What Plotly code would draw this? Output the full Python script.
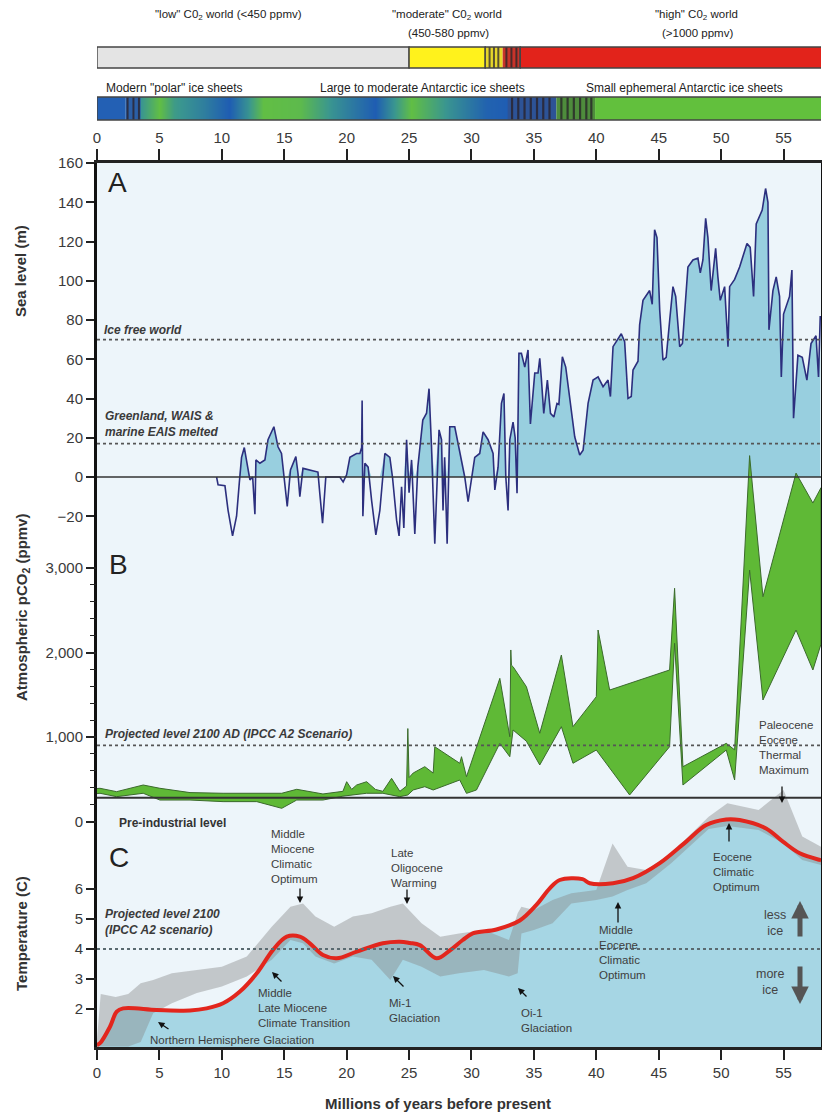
import plotly.graph_objects as go

# ---------------- Panel A: sea level (m) ----------------
sl_age = [9.58, 9.7, 10.25, 10.5, 10.86, 11.18, 11.4, 11.58, 11.8, 11.97, 12.25, 12.47, 12.65, 12.73,
          13.05, 13.45, 13.7, 14.17, 14.5, 14.78, 14.97, 15.24, 15.5, 15.93, 16.1, 16.25, 16.5, 17.05,
          17.7, 17.85, 18.07, 18.33, 19.45, 19.72, 19.99, 20.26, 20.79, 21.06, 21.2, 21.24, 21.3, 21.46,
          21.72, 22.0, 22.34, 22.66, 23.06, 23.46, 23.67, 24.0, 24.2, 24.4, 24.58, 24.8, 25.0, 25.2,
          25.46, 25.7, 26.1, 26.4, 26.6, 26.8, 27.06, 27.4, 27.6, 27.72, 27.85, 28.05, 28.26, 28.66,
          29.06, 29.46, 29.73, 30.0, 30.26, 30.66, 30.93, 31.33, 31.73, 31.87, 32.13, 32.4, 32.6, 32.75,
          32.93, 33.07, 33.33, 33.5, 33.65, 33.8, 34.0, 34.27, 34.53, 34.72, 35.07, 35.33, 35.47, 35.6,
          35.79, 36.08, 36.33, 36.6, 36.85, 37.0, 37.28, 37.55, 37.87, 38.27, 38.67, 38.94, 39.34, 39.74,
          40.14, 40.54, 40.94, 41.13, 41.34, 41.74, 42.0, 42.27, 42.54, 42.8, 42.94, 43.34, 43.47, 43.74,
          44.27, 44.48, 44.67, 44.86, 45.08, 45.34, 45.6, 45.88, 46.14, 46.36, 46.68, 46.9, 47.08, 47.34,
          47.74, 48.14, 48.33, 48.54, 48.76, 48.94, 49.2, 49.56, 49.74, 49.93, 50.28, 50.55, 50.68, 51.08,
          51.48, 51.74, 52.07, 52.33, 52.6, 52.81, 53.29, 53.56, 53.75, 53.83, 54.15, 54.41, 54.68, 54.82,
          55.0, 55.48, 55.67, 55.8, 56.15, 56.5, 56.87, 57.2, 57.6, 57.8, 57.94]
sl_m = [0, -4, -4.5, -17, -30, -20, -3, 10, 15, 8.7, -1.5, 0, -19, 8.7,
        7, 8.7, 19, 25.6, 15.4, 12, 0, -15, 3.6, 10.4, 1.9, -10, 4.4, 3.4,
        2.5, -8.5, -23.5, 0, 0, -2.5, 1, 10, 12, 12, 15, 39, -20, 7,
        5, -12, -29.5, -17, 12, 10, 0, -22, -30, -5, -26, 19, -8, 8.7,
        -29, 5, 29, 32.5, 45, 15, -34, 24, 19, -17, 10, -34, 25.6, 25.6,
        12, 0, -12.6, -2, 10, 12, 23, 19, 12, -6.6, 5, 37.5, 42.6, 0,
        -17, 19, 28, 20, -8.3, 63, 63, 56, 64.7, 27, 53, 53, 60.5, 50,
        32.4, 49.4, 32.4, 30.6, 37.5, 37, 61.3, 56, 41, 20.5, 11.2, 13.6, 37.5, 49.4,
        51, 46, 49.4, 41, 66.4, 70.7, 73, 69, 40, 41, 54.5, 59, 77.5, 90,
        95, 88, 126, 122, 85, 59.6, 61, 80, 97, 92, 66.4, 68, 85, 107,
        110.6, 111.5, 104, 110.6, 131.8, 122, 95, 116.5, 102, 90, 97, 66.4, 97, 100.7,
        107, 112, 119, 117, 92, 129, 136, 147, 140, 75, 95, 102, 92, 51,
        83, 92, 105.5, 30, 62, 61, 49.4, 68, 72, 51, 82]

# ---------------- Panel B: atmospheric pCO2 envelope (ppmv) ----------------
co2_hi_age = [0, 0.24, 1.57, 3.7, 5.04, 7.45, 10.1, 12.8, 14.8, 16.0, 18.1, 19.7, 20.0, 20.4, 20.8,
              21.6, 22.3, 22.9, 23.6, 24.26, 24.8, 24.9, 25.0, 25.33, 26.26, 26.93, 27.06, 29.06, 29.2,
              29.6, 30.4, 32.27, 33.07, 33.15, 33.2, 33.33, 34.4, 35.47, 37.2, 38.13, 40.0, 40.14, 41.07,
              45.87, 46.27, 46.94, 50.41, 51.08, 52.28, 53.35, 56.0, 57.35, 58.0]
co2_hi = [390, 393, 353, 432, 393, 342, 334, 334, 334, 381, 326, 357, 471, 380, 432,
          471, 380, 357, 511, 357, 420, 1100, 520, 574, 649, 573, 885, 689, 767,
          530, 885, 1694, 1003, 2030, 1850, 1832, 1595, 1044, 1970, 1122, 1477, 2266, 1556,
          1793, 2760, 649, 925, 848, 4330, 2660, 4123, 3769, 3950]
co2_lo_age = [0, 0.24, 1.57, 3.7, 5.04, 7.45, 10.1, 12.8, 14.8, 16.0, 18.1, 19.7, 21.6, 22.9, 24.26,
              24.9, 25.33, 26.26, 26.93, 29.06, 29.6, 30.4, 32.27, 33.07, 33.33, 34.4, 35.47, 37.2,
              38.13, 40.0, 42.67, 45.87, 46.27, 46.94, 50.41, 51.08, 52.28, 53.35, 56.0, 57.35, 58.0]
co2_lo = [330, 334, 294, 334, 254, 254, 235, 235, 156, 254, 254, 300, 334, 334, 294,
          314, 373, 412, 373, 491, 333, 373, 925, 767, 1083, 950, 669, 1122,
          689, 846, 314, 885, 2109, 432, 846, 491, 2976, 1438, 2266, 1793, 2100]

# ---------------- Panel C: temperature (C) ----------------
temp_age = [0.0, 0.24, 1.04, 1.58, 2.1, 4.78, 7.45, 8.78, 10.1, 11.45, 12.8, 14.1, 15.2, 16.25, 17.05,
            18.1, 19.2, 20.8, 22.9, 24.26, 25.06, 25.86, 27.2, 28.26, 29.3, 30.1, 32.0, 33.87, 35.2,
            36.27, 37.07, 38.9, 39.47, 41.34, 42.94, 45.08, 47.2, 48.8, 50.4, 51.48, 53.6, 54.95,
            56.3, 57.9, 58.0]
temp_c = [0.8, 0.86, 1.41, 1.91, 2.02, 1.97, 1.95, 2.02, 2.19, 2.58, 3.19, 3.97, 4.41, 4.41, 4.19,
          3.8, 3.69, 3.91, 4.19, 4.24, 4.2, 4.13, 3.69, 3.95, 4.3, 4.52, 4.65, 4.95, 5.47,
          6.02, 6.3, 6.33, 6.19, 6.19, 6.36, 6.86, 7.58, 8.13, 8.32, 8.3, 8.02, 7.58,
          7.19, 6.97, 6.96]

# spread of the individual benthic estimates around the smoothed curve
cloud_age = [0.0, 0.3, 1.5, 2.5, 3.5, 4.5, 6.0, 8.0, 10.0, 12.0, 14.0, 15.5, 16.5, 17.5, 19.0, 20.5,
             22.0, 23.5, 24.5, 26.0, 27.5, 29.0, 31.0, 33.0, 33.7, 34.0, 35.0, 36.5, 38.0, 40.0,
             41.3, 42.5, 44.0, 46.0, 49.0, 50.5, 53.0, 55.0, 56.5, 58.0]
cloud_hi = [1.0, 2.5, 2.4, 2.5, 2.86, 2.97, 3.19, 3.3, 3.41, 3.75, 4.74, 5.41, 5.52, 5.08, 4.74, 5.08,
            5.19, 5.41, 5.52, 4.86, 4.41, 4.52, 4.63, 4.3, 5.19, 5.41, 5.3, 5.63, 5.86, 5.97,
            7.52, 6.74, 6.63, 7.19, 8.41, 8.86, 8.63, 9.3, 7.75, 7.41]
cloud_lo = [0.75, 0.75, 0.75, 0.75, 0.9, 1.86, 2.19, 2.53, 2.75, 3.08, 3.64, 4.3, 4.19, 3.75, 3.52, 3.75,
            3.64, 2.97, 3.64, 3.41, 3.08, 3.19, 3.3, 3.08, 3.19, 4.52, 4.63, 4.86, 5.52, 5.63,
            5.75, 5.97, 6.19, 6.86, 8.0, 8.1, 7.97, 7.52, 6.97, 6.8]

# reference levels
ice_free_m = 70
greenland_m = 17
proj_co2_ppm = 900
preindustrial_ppm = 280
proj_temp_c = 4

# ---------------- top bars ----------------
# CO2 regime bar (Myr boundaries)
co2_low_end = 25.0
co2_mod_end = 31.1
co2_mixed_end = 32.5
co2_transition_end = 33.9
co2_mod_stripes = [31.45, 31.8, 32.15]
co2_high_stripes = [32.8, 33.2, 33.6]
# ice sheet bar
ice_modern_end = 2.3
ice_nhg_end = 3.5
ice_large_end = 32.9
ice_unstable_mid = 36.8
ice_small_start = 39.9
ice_nhg_stripes = [2.45, 2.92, 3.36]
ice_blue_stripes = [33.25, 33.75, 34.25, 34.75, 35.25, 35.75, 36.25]
ice_green_stripes = [37.2, 37.7, 38.2, 38.7, 39.2, 39.6]
# blue (0) to green (1) character of the large/moderate ice-sheet interval
ice_key_age = [3.55, 5.0, 6.2, 8.5, 10.6, 12.0, 13.3, 16.3, 18.9, 22.3, 25.2, 28.2, 31.2, 32.9]
ice_key_val = [0.5, 0.95, 0.55, 0.3, 0.0, 0.45, 0.95, 0.9, 0.45, 0.0, 0.95, 0.45, 0.05, 0.0]

x_ticks = list(range(0, 56, 5))
a_ticks = list(range(-20, 161, 20))
b_ticks = [0, 1000, 2000, 3000]
b_ticktext = ["0", "1,000", "2,000", "3,000"]
b_minor = [200, 400, 600, 800, 1200, 1400, 1600, 1800, 2200, 2400, 2600, 2800]
c_ticks = [2, 3, 4, 5, 6]

# ---------------- geometry helpers ----------------
W, H = 822, 1116
ML, MR, MT, MB = 97, 1, 8, 69
PW, PH = W - ML - MR, H - MT - MB
PLOT_TOP = 163


def pxx(x):
    return (x - ML) / PW


def pxy(y):
    return (H - MB - y) / PH


FONT = "Liberation Sans, Arial, sans-serif"
INK = "#2a2a2a"
LABEL = "#3d3d3d"
XMAX = 58.0

fig = go.Figure()

# Panel A
fig.add_trace(go.Scatter(x=sl_age, y=[max(v, 0) for v in sl_m], mode="lines", line=dict(width=0),
                         fill="tozeroy", fillcolor="#98cfdf", hoverinfo="skip", yaxis="y"))
fig.add_trace(go.Scatter(x=sl_age, y=sl_m, mode="lines", line=dict(color="#2c2f7e", width=1.6),
                         yaxis="y"))

# Panel B
fig.add_trace(go.Scatter(x=co2_hi_age + co2_lo_age[::-1], y=co2_hi + co2_lo[::-1], mode="lines",
                         fill="toself", fillcolor="#5fb936", line=dict(color="#3b6a2c", width=1),
                         yaxis="y2"))

# Panel C
fig.add_trace(go.Scatter(x=temp_age, y=temp_c, mode="lines", line=dict(width=0, shape="spline"),
                         fill="tozeroy", fillcolor="#a6d6e4", hoverinfo="skip", yaxis="y3"))
fig.add_trace(go.Scatter(x=cloud_age + cloud_age[::-1], y=cloud_hi + cloud_lo[::-1], mode="lines",
                         fill="toself", fillcolor="rgba(135,135,135,0.42)", line=dict(width=0),
                         yaxis="y3"))
fig.add_trace(go.Scatter(x=temp_age, y=temp_c, mode="lines",
                         line=dict(color="#e2261d", width=4, shape="spline"), yaxis="y3"))

# placeholders so the overlaid tick axes are always drawn
fig.add_trace(go.Scatter(x=[None], y=[None], xaxis="x2", yaxis="y", showlegend=False))
fig.add_trace(go.Scatter(x=[None], y=[None], yaxis="y4", showlegend=False))

# ice-sheet gradient bar
fig.add_trace(go.Heatmap(x=ice_key_age, y=[0, 1], z=[ice_key_val, ice_key_val], zmin=0, zmax=1,
                         zsmooth="best", showscale=False, xaxis="x3", yaxis="y5",
                         colorscale=[[0, "#1f5db3"], [0.5, "#3a9690"], [1, "#66c33c"]]))

tickfont = dict(family=FONT, size=15, color="#3a3a3a")
main_dom = [0, pxy(PLOT_TOP)]

fig.update_layout(
    width=W, height=H, margin=dict(l=ML, r=MR, t=MT, b=MB, autoexpand=False),
    paper_bgcolor="white", plot_bgcolor="#edf5fa", showlegend=False,
    font=dict(family=FONT, color=INK),
    xaxis=dict(domain=[0, 1], range=[0, XMAX], anchor="y", tickvals=x_ticks, ticks="outside",
               ticklen=10, tickwidth=1.6, tickcolor="#222", showline=True, linewidth=2.5,
               linecolor="#222", mirror=True, showgrid=False, zeroline=False, tickfont=tickfont),
    xaxis2=dict(overlaying="x", side="top", range=[0, XMAX], anchor="y", tickvals=x_ticks,
                ticks="outside", ticklen=13, tickwidth=1.6, tickcolor="#222", showgrid=False,
                zeroline=False, showline=False, tickfont=tickfont),
    xaxis3=dict(domain=[0, 1], range=[0, XMAX], anchor="y5", visible=False),
    yaxis=dict(domain=main_dom, range=[-290.45, 160], tickvals=a_ticks, ticks="outside", ticklen=8,
               tickwidth=1.6, tickcolor="#222", showline=True, linewidth=3, linecolor="#111",
               mirror=True, showgrid=False, zeroline=False, tickfont=tickfont),
    yaxis2=dict(overlaying="y", range=[-2668.6, 7792.9], tickvals=b_ticks, ticktext=b_ticktext,
                ticks="outside", ticklen=10, tickwidth=1.6, tickcolor="#222", showgrid=False,
                zeroline=False, showline=False, tickfont=tickfont),
    yaxis3=dict(overlaying="y", range=[0.7333, 30.2], tickvals=c_ticks, ticks="outside", ticklen=10,
                tickwidth=1.6, tickcolor="#222", showgrid=False, zeroline=False, showline=False,
                tickfont=tickfont),
    yaxis4=dict(overlaying="y", range=[-2668.6, 7792.9], tickvals=b_minor, ticks="outside",
                ticklen=6, tickwidth=1.4, tickcolor="#222", showticklabels=False, showgrid=False,
                zeroline=False, showline=False),
    yaxis5=dict(domain=[pxy(120), pxy(97)], range=[0, 1], anchor="x3", visible=False),
)

shapes = []


def hline(yref, val, dash, width, color):
    shapes.append(dict(type="line", xref="paper", x0=0, x1=1, yref=yref, y0=val, y1=val,
                       line=dict(color=color, width=width, dash=dash), layer="above"))


hline("y", 0, "solid", 1.6, "#333")
hline("y", ice_free_m, "dot", 1.8, "#555")
hline("y", greenland_m, "dot", 1.8, "#555")
hline("y2", proj_co2_ppm, "dot", 1.8, "#555")
hline("y2", preindustrial_ppm, "solid", 2, "#333")
hline("y3", proj_temp_c, "dot", 1.8, "#5a6a70")


def bar_rect(x0, x1, ytop, ybot, fill, lw=1.4):
    shapes.append(dict(type="rect", xref="x", yref="paper", x0=x0, x1=x1, y0=pxy(ybot), y1=pxy(ytop),
                       fillcolor=fill, line=dict(color="#444", width=lw), layer="above"))


def bar_stripes(xs, ytop, ybot, color="#333", w=2):
    for s in xs:
        shapes.append(dict(type="line", xref="x", yref="paper", x0=s, x1=s, y0=pxy(ybot), y1=pxy(ytop),
                           line=dict(color=color, width=w), layer="above"))


# CO2 regime bar
CT, CB = 47, 68
bar_rect(0, co2_low_end, CT, CB, "#e4e4e4")
bar_rect(co2_low_end, co2_mod_end, CT, CB, "#fff21c")
bar_rect(co2_mod_end, co2_mixed_end, CT, CB, "#e6d62a", lw=0)
bar_stripes(co2_mod_stripes, CT, CB, "#5a5030", 2)
bar_rect(co2_mixed_end, co2_transition_end, CT, CB, "#c8332a", lw=0)
bar_stripes(co2_high_stripes, CT, CB, "#4a2a2a", 2)
bar_rect(co2_transition_end, XMAX + 1, CT, CB, "#e2231b")
shapes.append(dict(type="rect", xref="x", yref="paper", x0=co2_mod_end, x1=co2_transition_end,
                   y0=pxy(CB), y1=pxy(CT), line=dict(color="#444", width=1.4), layer="above"))

# ice-sheet bar
IT, IB = 97, 120
bar_rect(0, ice_modern_end, IT, IB, "#2360b4", lw=0)
bar_rect(ice_modern_end, ice_nhg_end, IT, IB, "#2b5fa6", lw=0)
bar_stripes(ice_nhg_stripes, IT, IB, "#2b2f45", 2)
bar_rect(ice_large_end, ice_unstable_mid, IT, IB, "#2d5396", lw=0)
bar_stripes(ice_blue_stripes, IT, IB, "#2a2c40", 2.2)
bar_rect(ice_unstable_mid, ice_small_start, IT, IB, "#4e8c3c", lw=0)
bar_stripes(ice_green_stripes, IT, IB, "#2f3a2c", 2.2)
bar_rect(ice_small_start, XMAX + 1, IT, IB, "#62c03d", lw=0)
shapes.append(dict(type="rect", xref="x", yref="paper", x0=0, x1=XMAX + 1, y0=pxy(IB), y1=pxy(IT),
                   line=dict(color="#444", width=1.4), layer="above"))

fig.update_layout(shapes=shapes)

ann = []


def text(x, y, s, size=11.5, color=LABEL, xanchor="left", yanchor="middle", align="left", **kw):
    ann.append(dict(x=pxx(x), y=pxy(y), xref="paper", yref="paper", text=s, showarrow=False,
                    xanchor=xanchor, yanchor=yanchor, align=align,
                    font=dict(family=FONT, size=size, color=color), **kw))


def vtitle(x, y, s):
    ann.append(dict(x=pxx(x), y=pxy(y), xref="paper", yref="paper", text=s, showarrow=False,
                    textangle=-90, xanchor="center", yanchor="middle",
                    font=dict(family=FONT, size=15, color="#333")))


def arrow(x, y, ax, ay, width=1.3, head=2, size=1.0, color="#111"):
    ann.append(dict(x=pxx(x), y=pxy(y), xref="paper", yref="paper", text="", showarrow=True,
                    ax=ax, ay=ay, axref="pixel", ayref="pixel", arrowhead=head, arrowsize=size,
                    arrowwidth=width, arrowcolor=color))


# top bar captions
text(228, 15, '"low" C0<sub>2</sub> world (&lt;450 ppmv)', 11.5, "#222", "center")
text(447, 15, '"moderate" C0<sub>2</sub> world', 11.5, "#222", "center")
text(448, 33, "(450-580 ppmv)", 11.5, "#222", "center")
text(696, 15, '"high" C0<sub>2</sub> world', 11.5, "#222", "center")
text(697, 33, "(&gt;1000 ppmv)", 11.5, "#222", "center")
text(174, 88, 'Modern "polar" ice sheets', 12, "#222", "center")
text(422, 88, "Large to moderate Antarctic ice sheets", 12, "#222", "center")
text(584, 88, "Small ephemeral Antarctic ice sheets", 12, "#222", "left")

# panel letters
text(117, 182, "A", 28, "#222", "center")
text(118, 564, "B", 28, "#222", "center")
text(119, 857, "C", 28, "#222", "center")

# axis titles
vtitle(21, 271, "<b>Sea level (m)</b>")
vtitle(22, 607, "<b>Atmospheric pCO<sub>2</sub> (ppmv)</b>")
vtitle(21, 934, "<b>Temperature (C)</b>")
text(438, 1103, "<b>Millions of years before present</b>", 15, "#333", "center")

# reference-level labels
text(102, 330, "<b><i>Ice free world</i></b>", 12, "#3a3a3a")
text(103, 424, "<b><i>Greenland, WAIS &amp;<br>marine EAIS melted</i></b>", 12, "#3a3a3a")
text(103, 734, "<b><i>Projected level 2100 AD (IPCC A2 Scenario)</i></b>", 12, "#3a3a3a")
text(103, 922, "<b><i>Projected level 2100<br>(IPCC A2 scenario)</i></b>", 12, "#3a3a3a")
text(117, 823, "<b>Pre-industrial level</b>", 12, "#333")

# event annotations
text(269, 826, "Middle<br>Miocene<br>Climatic<br>Optimum", yanchor="top")
arrow(300, 903, 0, -16)
text(389, 845, "Late<br>Oligocene<br>Warming", yanchor="top")
arrow(407, 904, 0, -16)
text(256, 985, "Middle<br>Late Miocene<br>Climate Transition", yanchor="top")
arrow(272, 972, 11, 11)
text(148, 1040, "Northern Hemisphere Glaciation")
arrow(158, 1022, 12, 8)
text(387, 995, "Mi-1<br>Glaciation", yanchor="top")
arrow(393, 976, 12, 12)
text(519, 1005, "Oi-1<br>Glaciation", yanchor="top")
arrow(518, 988, 10, 10)
text(597, 922, "Middle<br>Eocene<br>Climatic<br>Optimum", yanchor="top")
arrow(618, 902, 0, 22)
text(711, 849, "Eocene<br>Climatic<br>Optimum", yanchor="top")
arrow(729, 823, 0, 20)
text(757, 717, "Paleocene<br>Eocene<br>Thermal<br>Maximum", yanchor="top")
arrow(782, 803, 0, -18)
text(775, 923, "less<br>ice", 12.5, "#444", "center", align="center")
arrow(800, 901, 0, 37, width=5, head=2, size=0.7, color="#555")
text(770, 982, "more<br>ice", 12.5, "#444", "center", align="center")
arrow(800, 1004, 0, -39, width=5, head=2, size=0.7, color="#555")

fig.update_layout(annotations=ann)

fig.write_html("out.html")
